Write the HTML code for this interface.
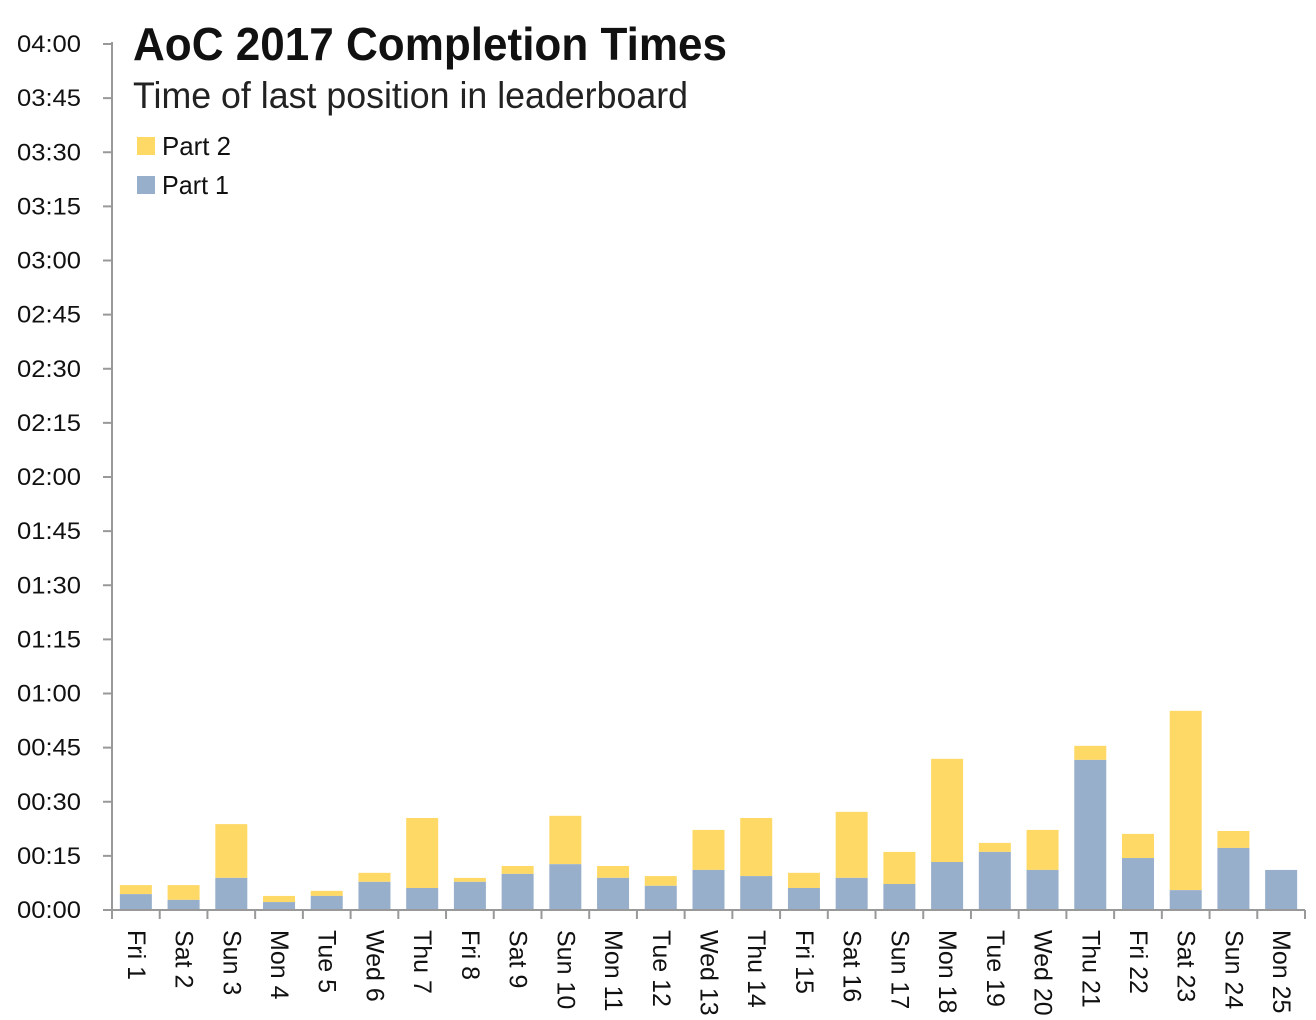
<!DOCTYPE html>
<html><head><meta charset="utf-8"><style>
html,body{margin:0;padding:0;background:#fff;}
svg{display:block;font-family:"Liberation Sans",sans-serif;}
</style></head><body>
<svg id="chart" width="1316" height="1020" viewBox="0 0 1316 1020">
<text x="133" y="60" font-size="46" font-weight="bold" fill="#111" textLength="594" lengthAdjust="spacingAndGlyphs">AoC 2017 Completion Times</text>
<text x="133" y="108" font-size="37" fill="#222" textLength="555" lengthAdjust="spacingAndGlyphs">Time of last position in leaderboard</text>
<rect x="137" y="137" width="18" height="18" fill="#FED966"/>
<text x="162" y="155" font-size="26" fill="#111" textLength="69" lengthAdjust="spacingAndGlyphs">Part 2</text>
<rect x="137" y="176" width="18" height="18" fill="#97AFCB"/>
<text x="162" y="194" font-size="26" fill="#111" textLength="67" lengthAdjust="spacingAndGlyphs">Part 1</text>
<g id="plot"></g>
</svg>
<script>
const categories=["Fri 1","Sat 2","Sun 3","Mon 4","Tue 5","Wed 6","Thu 7","Fri 8","Sat 9","Sun 10","Mon 11","Tue 12","Wed 13","Thu 14","Fri 15","Sat 16","Sun 17","Mon 18","Tue 19","Wed 20","Thu 21","Fri 22","Sat 23","Sun 24","Mon 25"];
const part1=[4.4,2.8,8.9,2.2,3.9,7.8,6.1,7.8,10.0,12.7,8.9,6.7,11.1,9.4,6.1,8.9,7.2,13.3,16.1,11.1,41.6,14.4,5.5,17.2,11.1];
const totals=[6.9,6.9,23.8,3.9,5.3,10.3,25.5,8.9,12.2,26.1,12.2,9.4,22.2,25.5,10.3,27.2,16.1,41.9,18.6,22.2,45.5,21.1,55.2,21.9,11.1];
const yTicks=["00:00","00:15","00:30","00:45","01:00","01:15","01:30","01:45","02:00","02:15","02:30","02:45","03:00","03:15","03:30","03:45","04:00"];
const NS="http://www.w3.org/2000/svg";
const g=document.getElementById("plot");
const X0=112,X1=1305,Y0=910,Y1=44,MAXMIN=240;
const step=(X1-X0)/categories.length;
function y(v){return Y0-(v/MAXMIN)*(Y0-Y1);}
function xc(i){return X0+step*(i+0.5);}
function mk(tag,attrs){const e=document.createElementNS(NS,tag);for(const k in attrs)e.setAttribute(k,attrs[k]);g.appendChild(e);return e;}
// y axis
let ax=mk("line",{x1:X0,y1:Y1-2,x2:X0,y2:Y0,stroke:"#999","stroke-width":2});


yTicks.forEach((t,i)=>{
  const yy=y(i*15);
  const tk=mk("line",{x1:X0-9,y1:yy,x2:X0,y2:yy,stroke:"#999","stroke-width":2});
  
  
  const tx=mk("text",{x:81,y:yy+8,"font-size":24,"text-anchor":"end",fill:"#111",textLength:64,lengthAdjust:"spacingAndGlyphs"});
  tx.textContent=t;
  
  
});
// bars
categories.forEach((c,i)=>{
  const bw=32,x=xc(i)-bw/2;
  const p1=part1[i],tot=totals[i];
  if(tot>p1){
    const r2=mk("rect",{x:x,y:y(tot),width:bw,height:y(p1)-y(tot),fill:"#FED966"});
    
    
  }
  const r1=mk("rect",{x:x,y:y(p1),width:bw,height:Y0-y(p1),fill:"#97AFCB"});
  
  
  const tk=mk("line",{x1:X0+step*i,y1:Y0,x2:X0+step*i,y2:Y0+9,stroke:"#999","stroke-width":2});
  
  
  const tx=mk("text",{x:0,y:0,"font-size":25,fill:"#111",transform:`translate(${xc(i)-8},930) rotate(90)`});
  tx.textContent=c;
  
  
});
let tkEnd=mk("line",{x1:X1,y1:Y0,x2:X1,y2:Y0+9,stroke:"#999","stroke-width":2});


let xa=mk("line",{x1:X0,y1:Y0,x2:X1,y2:Y0,stroke:"#999","stroke-width":2});


</script>
</body></html>
